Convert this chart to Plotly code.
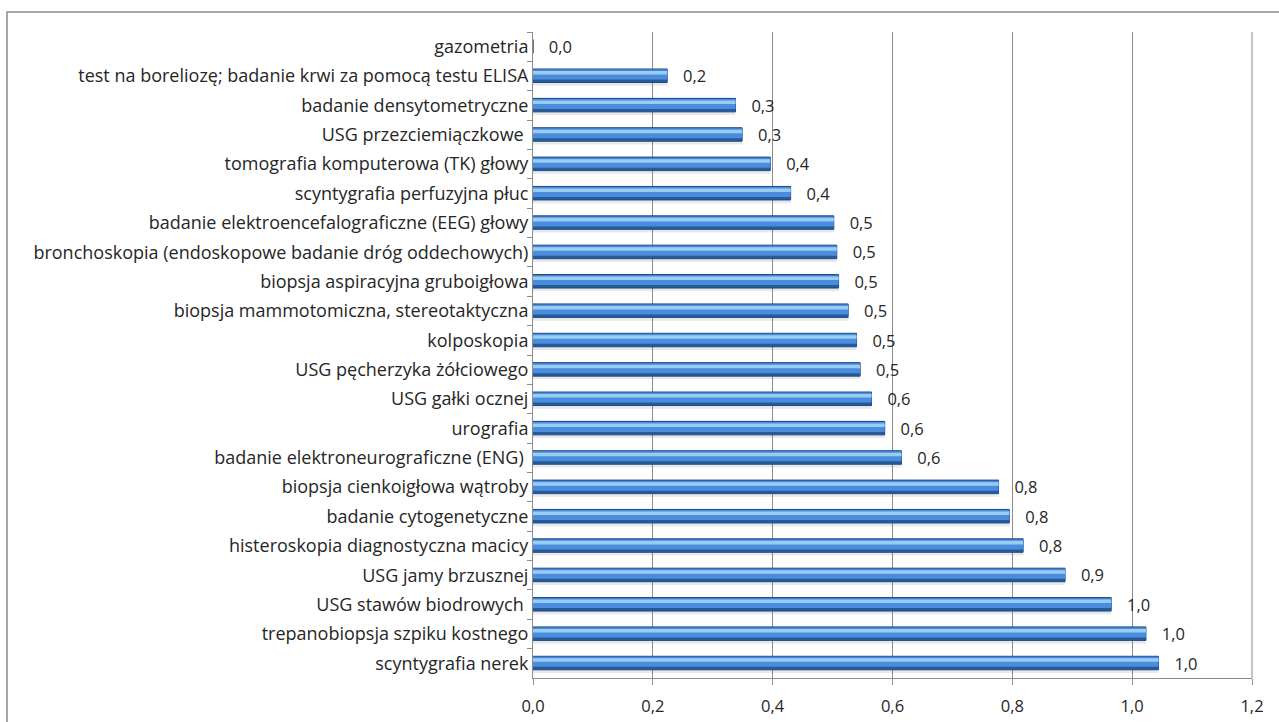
import plotly.graph_objects as go

categories = [
    "gazometria",
    "test na boreliozę; badanie krwi za pomocą testu ELISA",
    "badanie densytometryczne",
    "USG przezciemiączkowe\u00a0",
    "tomografia komputerowa (TK) głowy",
    "scyntygrafia perfuzyjna płuc",
    "badanie elektroencefalograficzne (EEG) głowy",
    "bronchoskopia (endoskopowe badanie dróg oddechowych)",
    "biopsja aspiracyjna gruboigłowa",
    "biopsja mammotomiczna, stereotaktyczna",
    "kolposkopia",
    "USG pęcherzyka żółciowego",
    "USG gałki ocznej",
    "urografia",
    "badanie elektroneurograficzne (ENG)\u00a0",
    "biopsja cienkoigłowa wątroby",
    "badanie cytogenetyczne",
    "histeroskopia diagnostyczna macicy",
    "USG jamy brzusznej",
    "USG stawów biodrowych\u00a0",
    "trepanobiopsja szpiku kostnego",
    "scyntygrafia nerek",
]
values = [0.0, 0.224, 0.338, 0.349, 0.396, 0.430, 0.502, 0.507, 0.510, 0.526,
          0.540, 0.546, 0.565, 0.587, 0.615, 0.777, 0.795, 0.818, 0.888, 0.965,
          1.023, 1.044]
x_ticks = [0.0, 0.2, 0.4, 0.6, 0.8, 1.0, 1.2]

W, H = 1279, 722
L, R, T, B = 533, 27, 32, 44
pw, ph = W - L - R, H - T - B
FONT = "Open Sans"

fig = go.Figure()
# soft shadow
fig.add_trace(go.Bar(y=categories, x=values, orientation="h", width=0.52, offset=-0.19,
                     marker=dict(color="rgba(110,110,110,0.16)", line=dict(width=0)),
                     hoverinfo="skip", showlegend=False))
# main bar body (dark lower edge)
fig.add_trace(go.Bar(y=categories, x=values, orientation="h", width=0.46, offset=-0.24,
                     marker=dict(color="#275A98", line=dict(color="#1F4C85", width=1)),
                     texttemplate="   %{x:.1f}", textposition="outside",
                     constraintext="none",
                     outsidetextfont=dict(family=FONT, size=16.5, color="#262626"),
                     cliponaxis=False, showlegend=False))
# mid tone
fig.add_trace(go.Bar(y=categories, x=values, orientation="h", width=0.34, offset=-0.22,
                     marker=dict(color="#4A8DDC", line=dict(width=0)),
                     hoverinfo="skip", showlegend=False))
# highlight band
fig.add_trace(go.Bar(y=categories, x=values, orientation="h", width=0.12, offset=-0.17,
                     marker=dict(color="#9ACBF5", line=dict(width=0)),
                     hoverinfo="skip", showlegend=False))

fig.update_layout(
    width=W, height=H, barmode="overlay",
    margin=dict(l=L, r=R, t=T, b=B, pad=0, autoexpand=False),
    paper_bgcolor="white", plot_bgcolor="white",
    separators=", ",
    font=dict(family=FONT, size=17, color="#262626"),
    xaxis=dict(range=[0, 1.2], tickvals=x_ticks, tickformat=".1f",
               showgrid=True, gridcolor="#8C8C8C", gridwidth=1,
               showline=True, linecolor="#8C8C8C", linewidth=1, mirror=False,
               ticks="outside", ticklen=6, tickcolor="#8C8C8C",
               ticklabelstandoff=7, automargin=False,
               zeroline=False, tickfont=dict(size=16.5)),
    yaxis=dict(autorange="reversed", type="category", categoryorder="array",
               categoryarray=categories, tickson="boundaries",
               ticks="outside", ticklen=5, tickcolor="#8C8C8C",
               showline=True, linecolor="#8C8C8C", linewidth=1,
               showgrid=False, automargin=False, tickfont=dict(size=18)),
    shapes=[
        dict(type="line", xref="paper", yref="paper", x0=1, x1=1, y0=0, y1=1,
             line=dict(color="#8C8C8C", width=1)),
        dict(type="rect", xref="paper", yref="paper",
             x0=(7 - L) / pw, x1=(W + 20 - L) / pw,
             y0=-(B + 20) / ph, y1=1 + (T - 12) / ph,
             line=dict(color="#8C8C8C", width=1.5)),
    ],
)

fig.write_html("out.html")
